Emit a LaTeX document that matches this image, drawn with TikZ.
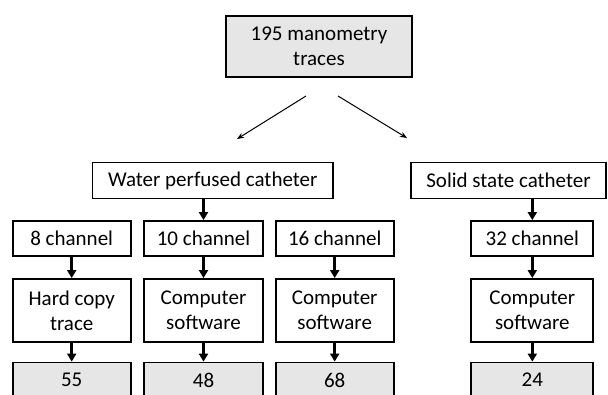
\documentclass[tikz,border=0pt]{standalone}
\usepackage{fontspec}
\setmainfont{Carlito}
\usetikzlibrary{arrows.meta}
\definecolor{boxgray}{HTML}{E6E6E6}
\begin{document}
\begin{tikzpicture}[x=1bp,y=-1bp,
  box/.style={draw=black,line width=1.8bp,inner sep=0pt,align=center,
    font=\fontsize{21bp}{25bp}\selectfont},
  graybox/.style={box,fill=boxgray},
  down/.style={line width=2.5bp,-{Triangle[length=8bp,width=9bp]}},
  diag/.style={line width=1bp,-{Stealth[length=7bp,width=5.5bp]}}]
\useasboundingbox (0,0) rectangle (608,394);
\clip (0,0) rectangle (608,394);
% top
\node[graybox,minimum width=186bp,minimum height=61bp] (top) at (319,46.5) {195 manometry\\traces};
% level 1
\node[box,minimum width=240.5bp,minimum height=36bp] (water) at (212.75,180.5) {Water perfused catheter};
\node[box,minimum width=195bp,minimum height=36bp] (solid) at (508.5,180.5) {Solid state catheter};
% channels
\node[box,minimum width=118bp,minimum height=35bp] (ch8) at (71.7,238.5) {8 channel};
\node[box,minimum width=119bp,minimum height=35bp] (ch10) at (203.5,238.5) {10 channel};
\node[box,minimum width=118bp,minimum height=35bp] (ch16) at (334.7,238.5) {16 channel};
\node[box,minimum width=122bp,minimum height=35bp] (ch32) at (532.3,238.5) {32 channel};
% methods
\node[box,minimum width=118bp,minimum height=62.7bp] (m8) at (71.7,310.3) {Hard copy\\trace};
\node[box,minimum width=119bp,minimum height=62.7bp] (m10) at (203.5,310.3) {Computer\\software};
\node[box,minimum width=118bp,minimum height=62.7bp] (m16) at (334.7,310.3) {Computer\\software};
\node[box,minimum width=122bp,minimum height=62.7bp] (m32) at (532.3,310.3) {Computer\\software};
% counts
\node[graybox,minimum width=118bp,minimum height=35bp] (n8) at (71.7,380) {55};
\node[graybox,minimum width=119bp,minimum height=35bp] (n10) at (203.5,380) {48};
\node[graybox,minimum width=118bp,minimum height=35bp] (n16) at (334.7,380) {68};
\node[graybox,minimum width=122bp,minimum height=35bp] (n32) at (532.3,380) {24};
% diagonal arrows
\coordinate (dl1) at (306,96);
\coordinate (dl2) at (237,139);
\coordinate (dr1) at (338,96);
\coordinate (dr2) at (407,138);
\draw[diag] (dl1) -- (dl2);
\draw[diag] (dr1) -- (dr2);
% vertical arrows
\draw[down] (water.south -| ch10.north) -- (ch10.north);
\draw[down] (solid.south -| ch32.north) -- (ch32.north);
\foreach \a/\b in {ch8/m8,ch10/m10,ch16/m16,ch32/m32,m8/n8,m10/n10,m16/n16,m32/n32}
  \draw[down] (\a.south) -- (\b.north);
\end{tikzpicture}
\end{document}
